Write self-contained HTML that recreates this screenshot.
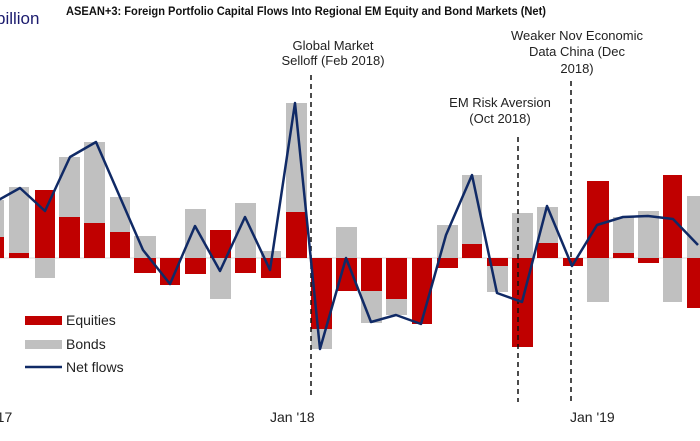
<!DOCTYPE html>
<html><head><style>
body{margin:0;background:#fff;}
svg{display:block;font-family:"Liberation Sans",sans-serif;}
</style></head><body>
<svg width="700" height="441" viewBox="0 0 700 441">
<rect width="700" height="441" fill="#fff"/>
<text x="-4" y="24" font-size="17" fill="#1b1b6e">billion</text>
<text x="66" y="15" font-size="12" font-weight="bold" fill="#111" textLength="480" lengthAdjust="spacingAndGlyphs">ASEAN+3: Foreign Portfolio Capital Flows Into Regional EM Equity and Bond Markets (Net)</text>
<line x1="0" y1="258" x2="700" y2="258" stroke="#ddd" stroke-width="1"/>
<g id="bars"></g>
<g stroke="#111" stroke-width="1.5" stroke-dasharray="5,4">
<line x1="311" y1="75" x2="311" y2="397"/>
<line x1="518" y1="137" x2="518" y2="402"/>
<line x1="571" y1="81" x2="571" y2="402"/>
</g>
<polyline fill="none" stroke="#102a66" stroke-width="2.5" stroke-linejoin="round" points="-5,202 20,188 45,211 70,157 96,142 143,250 170,284 195,226 220,271 245,217 270,270 295,103 320,349 346,258 371,322 396,315 421,324 446,235 472,175 497,293 522,302 547,206 572,266 597,225 623,217 648,216 673,219 698,245"/>
<g font-size="13" fill="#222" text-anchor="middle">
<text x="333" y="50">Global Market</text>
<text x="333" y="65">Selloff (Feb 2018)</text>
<text x="500" y="107">EM Risk Aversion</text>
<text x="500" y="123">(Oct 2018)</text>
<text x="577" y="40">Weaker Nov Economic</text>
<text x="577" y="56">Data China (Dec</text>
<text x="577" y="73">2018)</text>
</g>
<rect x="25" y="316" width="37" height="9" fill="#c00000"/>
<rect x="25" y="340" width="37" height="9" fill="#c0c0c0"/>
<line x1="25" y1="367" x2="62" y2="367" stroke="#102a66" stroke-width="2.5"/>
<g font-size="14" fill="#222">
<text x="66" y="325">Equities</text>
<text x="66" y="349">Bonds</text>
<text x="66" y="372">Net flows</text>
<text x="-6" y="422">'17</text>
<text x="270" y="422">Jan '18</text>
<text x="570" y="422">Jan '19</text>
</g>
</svg>
<script>
var d=[[-20,4,200,237,0],[9,29,187,253,0],[35,55,190,258,278],[59,80,157,217,0],[84,105,142,223,0],[110,130,197,232,0],[134,156,236,273,1],[160,180,258,285,2],[185,206,209,274,1],[210,231,230,258,299],[235,256,203,273,1],[261,281,251,278,1],[286,307,103,212,0],[311,332,258,329,349],[336,357,227,291,1],[361,382,258,291,323],[386,407,258,299,315],[412,432,258,324,2],[437,458,225,268,1],[462,482,175,244,0],[487,508,258,266,292],[512,533,213,347,1],[537,558,207,243,0],[563,583,258,266,2],[587,609,181,258,302],[613,634,217,253,0],[638,659,211,263,1],[663,682,175,258,302],[687,700,196,308,1]];
var s="",Z=258;
function r(x1,x2,y1,y2,c){if(y2<=y1)return;s+='<rect x="'+x1+'" y="'+y1+'" width="'+(x2-x1)+'" height="'+(y2-y1)+'" fill="'+c+'"/>';}
d.forEach(function(b){var R="#c00000",G="#c0c0c0";
if(b[4]===0){r(b[0],b[1],b[2],b[3],G);r(b[0],b[1],b[3],Z,R);}
else if(b[4]===1){r(b[0],b[1],b[2],Z,G);r(b[0],b[1],Z,b[3],R);}
else if(b[4]===2){r(b[0],b[1],Z,b[3],R);}
else{ if(b[3]===Z){r(b[0],b[1],b[2],Z,R);r(b[0],b[1],Z,b[4],G);} else {r(b[0],b[1],Z,b[3],R);r(b[0],b[1],b[3],b[4],G);} }
});
document.getElementById("bars").innerHTML=s;
</script>
</body></html>
